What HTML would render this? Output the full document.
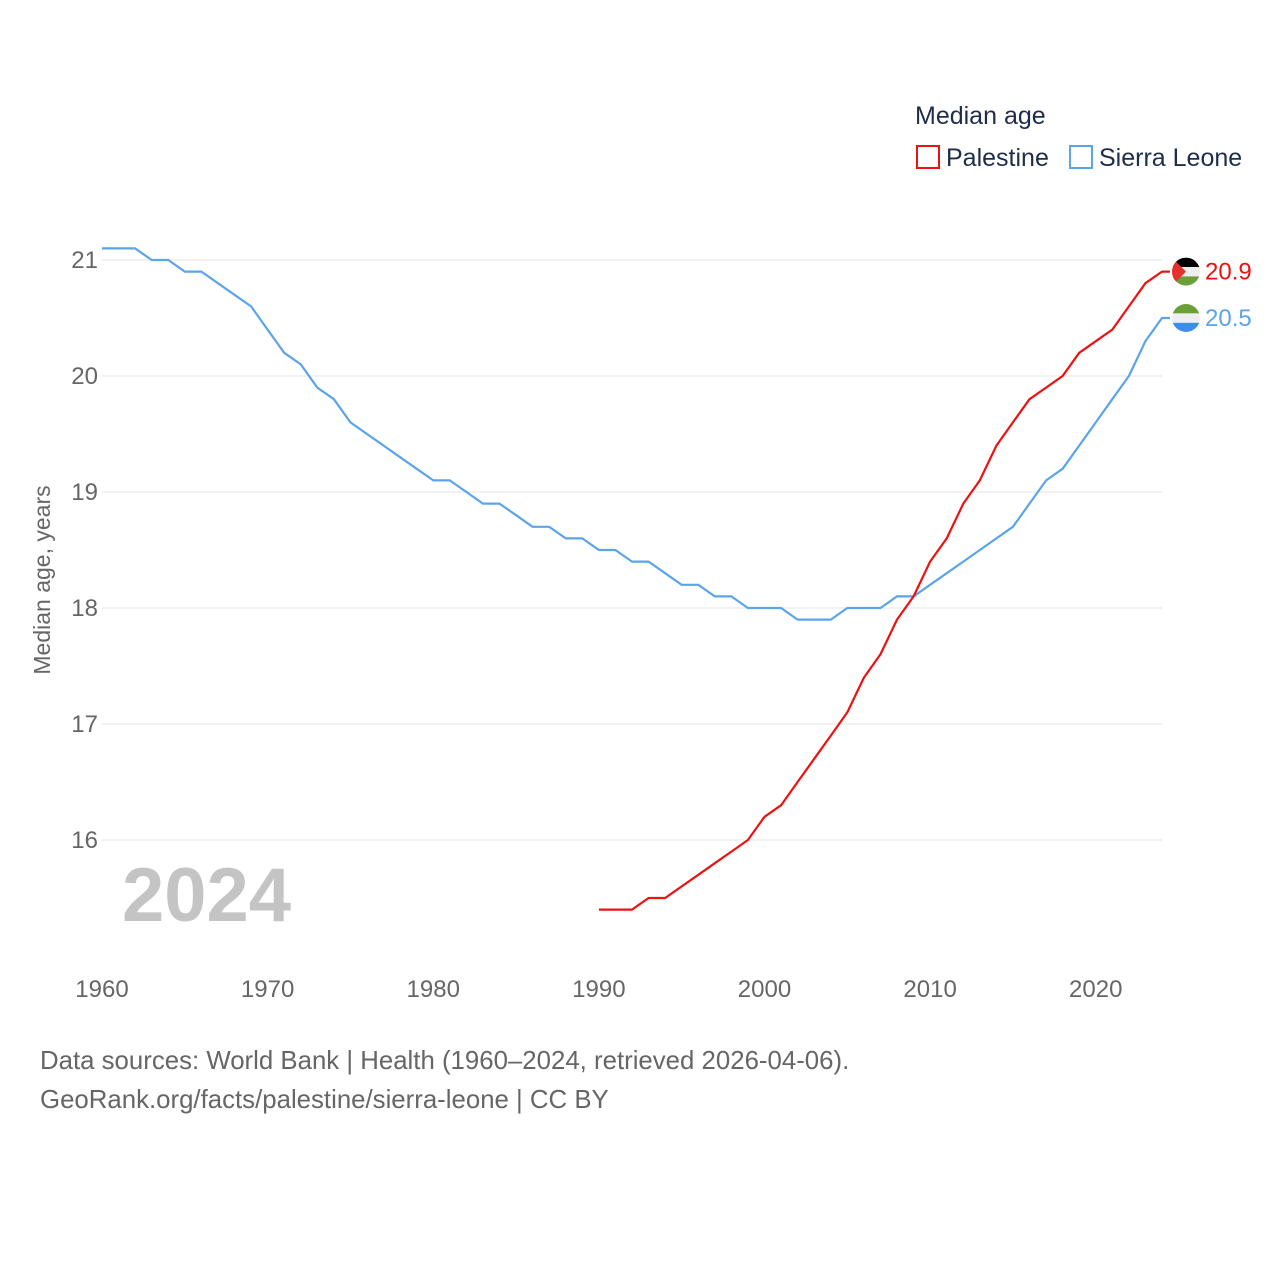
<!DOCTYPE html>
<html><head><meta charset="utf-8"><style>
body{margin:0;background:#fff;font-family:"Liberation Sans",sans-serif;}
svg text{font-family:"Liberation Sans",sans-serif;}
</style></head><body>
<svg id="chart" width="1280" height="1280">
<g id="grid"></g><g id="series"></g>
<text x="915" y="124" font-size="25" fill="#1e2d4a">Median age</text>
<rect x="917" y="146" width="22" height="22" fill="none" stroke="#ee1111" stroke-width="2"/>
<text x="946" y="166" font-size="25" fill="#1e2d4a">Palestine</text>
<rect x="1070" y="146" width="22" height="22" fill="none" stroke="#5ba4ea" stroke-width="2"/>
<text x="1099" y="166" font-size="25" fill="#1e2d4a">Sierra Leone</text>
<text transform="translate(50,580) rotate(-90)" text-anchor="middle" font-size="23" fill="#666">Median age, years</text>
<text x="122" y="921" font-size="76" font-weight="bold" fill="#c4c4c4">2024</text>
<text x="40" y="1069" font-size="25.8" fill="#666">Data sources: World Bank | Health (1960–2024, retrieved 2026-04-06).</text>
<text x="40" y="1108" font-size="25.8" fill="#666">GeoRank.org/facts/palestine/sierra-leone | CC BY</text>
</svg>
<script>
const yTicks=[16,17,18,19,20,21];
const xTicks=[1960,1970,1980,1990,2000,2010,2020];
const slStart=1960;
const slValues=[21.1,21.1,21.1,21.0,21.0,20.9,20.9,20.8,20.7,20.6,20.4,20.2,20.1,19.9,19.8,19.6,19.5,19.4,19.3,19.2,19.1,19.1,19.0,18.9,18.9,18.8,18.7,18.7,18.6,18.6,18.5,18.5,18.4,18.4,18.3,18.2,18.2,18.1,18.1,18.0,18.0,18.0,17.9,17.9,17.9,18.0,18.0,18.0,18.1,18.1,18.2,18.3,18.4,18.5,18.6,18.7,18.9,19.1,19.2,19.4,19.6,19.8,20.0,20.3,20.5];
const psStart=1990;
const psValues=[15.4,15.4,15.4,15.5,15.5,15.6,15.7,15.8,15.9,16.0,16.2,16.3,16.5,16.7,16.9,17.1,17.4,17.6,17.9,18.1,18.4,18.6,18.9,19.1,19.4,19.6,19.8,19.9,20.0,20.2,20.3,20.4,20.6,20.8,20.9];
const X=y=>102+(y-1960)*(1060/64);
const Y=v=>840-(v-16)*116;
const NS='http://www.w3.org/2000/svg';
const grid=document.getElementById('grid'),ser=document.getElementById('series');
function mk(tag,attrs,parent){const e=document.createElementNS(NS,tag);for(const k in attrs)e.setAttribute(k,attrs[k]);parent.appendChild(e);return e;}
yTicks.forEach(t=>{
 const l=mk('line',{x1:102,x2:1162,y1:Y(t),y2:Y(t),stroke:'#e6e6e6','stroke-width':1},grid);
 
 
 const tx=mk('text',{x:98,y:Y(t)+8,'text-anchor':'end','font-size':24,fill:'#666'},grid);tx.textContent=t;
 
 
});
xTicks.forEach(t=>{
 const tx=mk('text',{x:X(t),y:997,'text-anchor':'middle','font-size':24,fill:'#666'},grid);tx.textContent=t;
 
 
});
function line(start,vals,color,name){
 const d=vals.map((v,i)=>(i?'L':'M')+X(start+i).toFixed(1)+','+Y(v).toFixed(1)).join('')+'h8';
 const p=mk('path',{d:d,fill:'none',stroke:color,'stroke-width':2.2,'stroke-linejoin':'round'},ser);
 
 
 const last=vals[vals.length-1],ly=Y(last);
 const g=mk('g',{},ser);
 
 
 return {ly,last,g};
}
const s=line(slStart,slValues,'#5ba4ea','sierra-leone');
const p=line(psStart,psValues,'#ee1111','palestine');
function clip(id,cy){const c=mk('clipPath',{id:id},ser);mk('circle',{cx:1186,cy:cy,r:14},c);}
clip('cp',p.ly);clip('cs',s.ly);
const pf=mk('g',{'clip-path':'url(#cp)'},p.g);
mk('rect',{x:1172,y:p.ly-14,width:28,height:9.4,fill:'#000'},pf);
mk('rect',{x:1172,y:p.ly-4.6,width:28,height:9.4,fill:'#eee'},pf);
mk('rect',{x:1172,y:p.ly+4.8,width:28,height:9.4,fill:'#6a9f3a'},pf);
mk('path',{d:`M1172,${p.ly-14}L1186,${p.ly}L1172,${p.ly+14}Z`,fill:'#e4312b'},pf);
const sf=mk('g',{'clip-path':'url(#cs)'},s.g);
mk('rect',{x:1172,y:s.ly-14,width:28,height:9.4,fill:'#6a9f3a'},sf);
mk('rect',{x:1172,y:s.ly-4.6,width:28,height:9.4,fill:'#eee'},sf);
mk('rect',{x:1172,y:s.ly+4.8,width:28,height:9.4,fill:'#3a8ef0'},sf);
const pt=mk('text',{x:1205,y:p.ly+8,'font-size':24,fill:'#ee1111'},p.g);pt.textContent=p.last.toFixed(1);
const st=mk('text',{x:1205,y:s.ly+8,'font-size':24,fill:'#5ba4ea'},s.g);st.textContent=s.last.toFixed(1);
</script>
</body></html>
